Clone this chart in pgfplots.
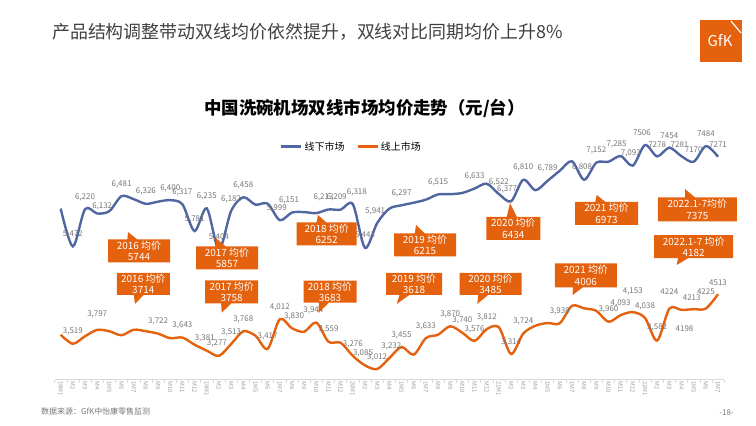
\documentclass[border=0pt]{standalone}
\usepackage{fontspec}
\setmainfont{Noto Sans CJK SC}
\usepackage{pgfplots}
\pgfplotsset{compat=1.18}
\usepackage{pgfplotstable}
\usetikzlibrary{shapes.callouts}

\definecolor{bl}{RGB}{80,102,161}
\definecolor{og}{RGB}{228,97,14}
\definecolor{lg}{RGB}{118,118,118}
\definecolor{hd}{RGB}{64,64,64}
\definecolor{ax}{RGB}{217,217,217}

\pgfplotstableread{
x y lab dy dx
1 6230 {} 12 0
2 5472 5,472 12 0
3 6220 6,220 12 0
4 6132 6,132 7 5
5 6180 {} 12 0
6 6481 6,481 12 0
7 6420 {} 12 0
8 6326 6,326 12 0
9 6370 {} 12 0
10 6400 6,400 12 0
11 6317 6,317 12 0
12 5781 5,781 12 0
13 6235 6,235 12 0
14 5404 5,404 12 0
15 6182 6,182 12 0
16 6458 6,458 12 0
17 6310 {} 12 0
18 6330 {} 12 0
19 5999 5,999 12 -3
20 6151 6,151 12 -3
21 6160 {} 12 0
22 6140 {} 12 0
23 6213 6,213 12 -5
24 6209 6,209 12 -4
25 6318 6,318 12 4
26 5443 5,443 12 0
27 5941 5,941 12 -2
28 6230 {} 12 0
29 6297 6,297 12 0
30 6349 {} 12 0
31 6410 {} 12 0
32 6515 6,515 12 0
33 6520 {} 12 0
34 6545 {} 12 0
35 6633 6,633 12 0
36 6730 {} 12 0
37 6522 6,522 12 0
38 6377 6,377 12 -4
39 6810 6,810 12 0
40 6600 {} 12 0
41 6789 6,789 12 0
42 6990 {} 12 0
43 7180 {} 12 0
44 6808 6,808 12 -2
45 7152 7,152 12 0
46 7170 {} 12 0
47 7285 7,285 12 -4
48 7093 7,093 12 -2
49 7506 7506 12 -3
50 7278 7278 12 0
51 7454 7454 12 0
52 7281 7281 12 -2
53 7170 7170 12 0
54 7484 7484 12 0
55 7271 7271 12 0
}\bluetab

\pgfplotstableread{
x y lab dy dx
1 3700 {} 12 0
2 3519 3,519 12 0
3 3670 {} 12 0
4 3797 3,797 16 0
5 3770 {} 12 0
6 3690 {} 12 0
7 3800 {} 12 0
8 3770 {} 12 0
9 3722 3,722 12 0
10 3630 {} 12 0
11 3643 3,643 12 0
12 3500 {} 12 0
13 3381 3,381 12 -2
14 3277 3,277 12 -2
15 3513 3,513 12 0
16 3768 3,768 12 0
17 3680 {} 12 0
18 3417 3,417 12 0
19 4012 4,012 12 0
20 3830 3,830 12 2
21 3760 {} 12 0
22 3944 3,944 12 -3
23 3559 3,559 12 0
24 3540 {} 12 0
25 3276 3,276 12 0
26 3085 3,085 12 -2
27 3012 3,012 12 0
28 3232 3,232 12 2
29 3455 3,455 12 0
30 3300 {} 12 0
31 3633 3,633 12 0
32 3700 {} 12 0
33 3870 3,870 12 0
34 3740 3,740 12 0
35 3576 3,576 12 0
36 3812 3,812 12 0
37 3850 {} 12 0
38 3314 3,314 12 0
39 3724 3,724 12 0
40 3880 {} 12 0
41 3935 {} 12 0
42 3930 3,930 12 0
43 4280 {} 12 0
44 4230 {} 12 0
45 4180 {} 12 0
46 3960 3,960 12 0
47 4093 4,093 12 0
48 4153 4,153 21 0
49 4038 4,038 12 0
50 3582 3,582 13 0
51 4224 4224 17 0
52 4198 4198 -19 3
53 4213 4213 12 -2
54 4225 4225 17 0
55 4513 4513 12 0
}\orangetab

\newcommand{\callout}[7]{%
\node[rectangle callout, fill=og, text=white, minimum width=#3bp, minimum height=#4bp,
  inner sep=0pt, align=center, font=\fontsize{10}{11.5}\selectfont,
  callout pointer width=10bp,
  callout absolute pointer={(#5bp,426bp-#6bp)}] at (#1bp,426bp-#2bp) {#7};}

\begin{document}
\begin{tikzpicture}
\path[use as bounding box] (0,0) rectangle (756bp,426bp);
% header
\node[anchor=west, font=\fontsize{18}{20}\selectfont, text=hd, inner sep=0pt] at (52bp,394bp)
  {产品结构调整带动双线均价依然提升，双线对比同期均价上升8\%};
% logo
\fill[og] (700bp,364bp) rectangle (742bp,406bp);
\node[text=white, font=\fontsize{15}{15}\selectfont, inner sep=0pt] at (720bp,385bp) {GfK};
\draw[white, line width=1.2bp] (731bp,405bp) -- (741bp,393bp);
% title
\node[font=\fontsize{17.5}{20}\selectfont\bfseries, inner sep=0pt] at (364.5bp,318bp)
  {中国洗碗机场双线市场均价走势（元/台）};
% footer
\node[anchor=west, font=\fontsize{8}{9}\selectfont, text=lg, inner sep=0pt] at (41bp,14.5bp)
  {数据来源：GfK中怡康零售监测};
\node[anchor=east, font=\fontsize{8}{9}\selectfont, text=lg, inner sep=0pt] at (734bp,13.5bp) {-18-};

\begin{axis}[
  at={(54.6bp,46.4bp)}, anchor=south west, scale only axis,
  width=669.5bp, height=259.2bp,
  xmin=0.5, xmax=55.5, ymin=2800, ymax=8000,
  axis x line=bottom, axis y line=none,
  x axis line style={draw=ax, line width=0.6bp, -},
  xtick={1,...,55},
  xticklabels={18M1,M2,M3,M4,1M5,M6,1M7,M8,M9,M10,M11,M12,
    19M1,M2,M3,M4,1M5,M6,1M7,M8,M9,M10,M11,M12,
    20M1,M2,M3,M4,1M5,M6,1M7,M8,M9,M10,M11,M12,
    21M1,M2,M3,M4,1M5,M6,1M7,M8,M9,M10,M11,M12,
    22M1,M2,M3,M4,1M5,M6,1M7},
  major tick length=0pt,
  minor xtick={0.5,1.5,...,55.5},
  minor tick length=3bp,
  minor tick style={draw=ax, line width=0.5bp},
  tick align=outside,
  x tick label style={rotate=-90, anchor=west, font=\fontsize{6}{6}\selectfont, text=lg!70, inner sep=1.5bp},
  clip=false,
  legend style={at={(0.4435,0.899)}, anchor=center, draw=none, fill=none,
    legend columns=2, font=\fontsize{10}{12}\selectfont,
    /tikz/every even column/.append style={column sep=10bp}},
  legend image code/.code={\draw[#1, line width=2.4bp] (0bp,0bp) -- (20bp,0bp);},
  nodes near coords align=center,
]
\addplot[bl, line width=2.4bp, smooth, mark=none, nodes near coords,
  point meta=explicit symbolic,
  visualization depends on={\thisrow{dy} \as \dy},
  visualization depends on={\thisrow{dx} \as \dx},
  every node near coord/.append style={anchor=center, xshift=\dx bp, yshift=\dy bp,
    font=\fontsize{8}{9}\selectfont, text=lg, inner sep=0pt}]
  table[x=x, y=y, meta=lab]{\bluetab};
\addlegendentry{线下市场}
\addplot[og, line width=2.4bp, smooth, mark=none, nodes near coords,
  point meta=explicit symbolic,
  visualization depends on={\thisrow{dy} \as \dy},
  visualization depends on={\thisrow{dx} \as \dx},
  every node near coord/.append style={anchor=center, xshift=\dx bp, yshift=\dy bp,
    font=\fontsize{8}{9}\selectfont, text=lg, inner sep=0pt}]
  table[x=x, y=y, meta=lab]{\orangetab};
\addlegendentry{线上市场}
\end{axis}

% callouts, offline row (pointer up)
\callout{139}{251}{62}{23}{128}{232}{2016 均价\\5744}
\callout{227}{258}{62}{23}{216}{238}{2017 均价\\5857}
\callout{326.7}{234}{60}{23}{318}{215}{2018 均价\\6252}
\callout{425}{245}{62}{23}{416}{225}{2019 均价\\6215}
\callout{513.3}{228.3}{54}{23}{510}{203}{2020 均价\\6434}
\callout{606.5}{213.3}{63}{23}{596.7}{195}{2021 均价\\6973}
\callout{697.3}{209.5}{79}{24}{685}{189}{2022.1-7均价\\7375}
% online row (pointer down)
\callout{143.3}{283.8}{53}{22}{135}{304}{2016 均价\\3714}
\callout{231.7}{292}{53}{23}{221.7}{312.7}{2017 均价\\3758}
\callout{330}{291.7}{53}{22}{318.3}{313}{2018 均价\\3683}
\callout{414}{283.8}{56}{22}{396.7}{304}{2019 均价\\3618}
\callout{490.5}{283.8}{62}{22}{477.3}{304}{2020 均价\\3485}
\callout{585.8}{275.4}{62}{24}{572.7}{295}{2021 均价\\4006}
\callout{693.7}{246.7}{79}{23}{676.7}{265}{2022.1-7 均价\\4182}
\end{tikzpicture}
\end{document}
